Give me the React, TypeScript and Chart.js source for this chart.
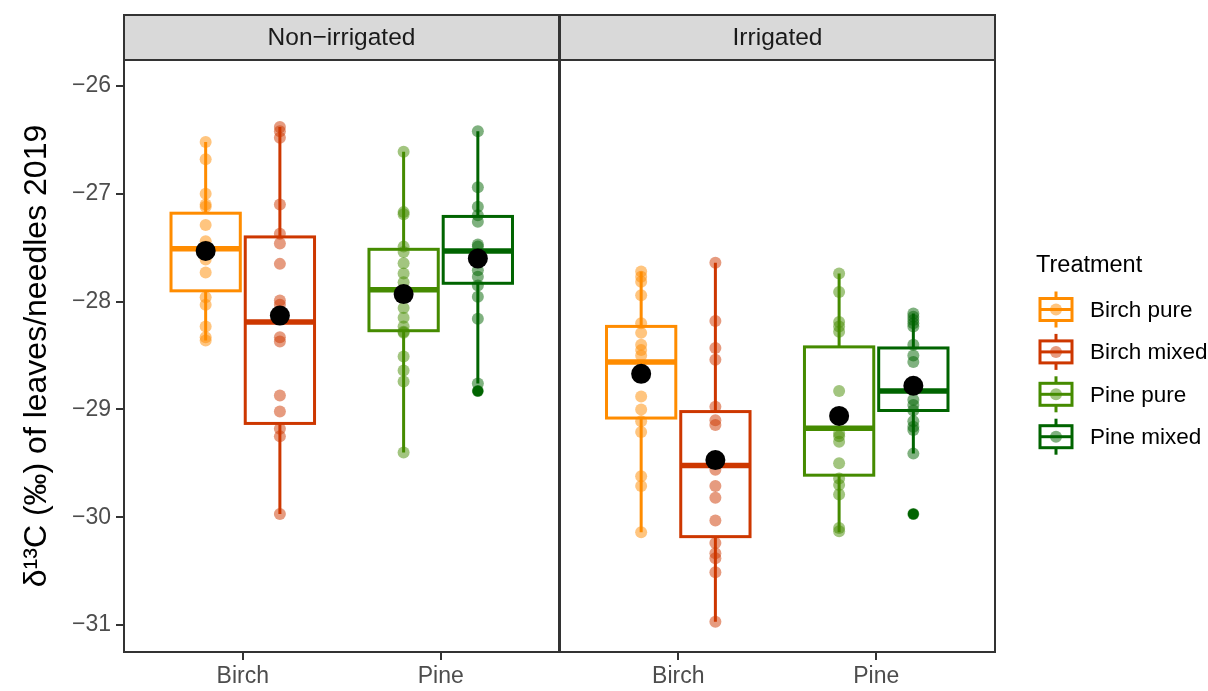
import React, { useEffect, useRef } from 'react';
import { Chart, registerables } from 'chart.js';

Chart.register(...registerables);

const FONT = "'Liberation Sans', Arial, sans-serif";

const PANELS = ['Non\u2212irrigated', 'Irrigated'];
const SPECIES = ['Birch', 'Pine'];
const TREATMENTS = ['Birch pure', 'Birch mixed', 'Pine pure', 'Pine mixed'];
const COLORS = ['#FF8C00', '#CD3700', '#458B00', '#006400'];
const Y_TICKS = [-31, -30, -29, -28, -27, -26];
const Y_TITLE = '\u03B4\u00B9\u00B3C (\u2030) of leaves/needles 2019';
const LEGEND_TITLE = 'Treatment';

// Individual observations (jittered points), Non-irrigated panel
const nonIrrBirchPure = [-26.52, -26.68, -27.0, -27.1, -27.12, -27.29, -27.44, -27.49, -27.61, -27.73, -27.96, -28.03, -28.23, -28.33, -28.36];
const nonIrrBirchMixed = [-26.38, -26.42, -26.48, -27.1, -27.37, -27.46, -27.65, -27.99, -28.03, -28.33, -28.37, -28.87, -29.02, -29.18, -29.25, -29.97];
const nonIrrPinePure = [-26.61, -27.17, -27.19, -27.49, -27.54, -27.645, -27.74, -27.82, -28.06, -28.15, -28.23, -28.28, -28.29, -28.51, -28.64, -28.74, -29.4];
const nonIrrPineMixed = [-26.42, -26.94, -27.12, -27.2, -27.26, -27.47, -27.49, -27.71, -27.77, -27.85, -27.955, -28.16, -28.76, -28.83];
// Irrigated panel
const irrBirchPure = [-27.72, -27.77, -27.815, -27.94, -28.2, -28.29, -28.4, -28.45, -28.5, -28.88, -29.0, -29.11, -29.21, -29.62, -29.71, -30.14];
const irrBirchMixed = [-27.64, -28.18, -28.43, -28.54, -28.975, -29.1, -29.145, -29.56, -29.71, -29.82, -30.03, -30.24, -30.335, -30.38, -30.51, -30.97];
const irrPinePure = [-27.74, -27.91, -28.19, -28.23, -28.28, -28.83, -29.22, -29.25, -29.3, -29.5, -29.64, -29.7, -29.79, -30.1, -30.13];
const irrPineMixed = [-28.11, -28.14, -28.17, -28.2, -28.23, -28.4, -28.5, -28.56, -28.91, -28.96, -29.01, -29.11, -29.16, -29.19, -29.41, -29.97];

// Box statistics [lower whisker, Q1, median, Q3, upper whisker], order: Birch pure, Birch mixed, Pine pure, Pine mixed
const boxNonIrr = [
  [-28.36, -27.9, -27.51, -27.18, -26.52],
  [-29.97, -29.13, -28.19, -27.4, -26.38],
  [-29.4, -28.27, -27.89, -27.515, -26.61],
  [-28.76, -27.83, -27.53, -27.21, -26.42],
];
const boxIrr = [
  [-30.14, -29.08, -28.56, -28.23, -27.72],
  [-30.97, -30.18, -29.52, -29.02, -27.64],
  [-30.14, -29.61, -29.175, -28.42, -27.74],
  [-29.41, -29.01, -28.83, -28.43, -28.11],
];
const meansNonIrr = [-27.53, -28.13, -27.93, -27.6];
const meansIrr = [-28.67, -29.47, -29.06, -28.78];
const outliersNonIrr = [[], [], [], [-28.83]];
const outliersIrr = [[], [], [], [-29.97]];

const POINTS = [
  [nonIrrBirchPure, nonIrrBirchMixed, nonIrrPinePure, nonIrrPineMixed],
  [irrBirchPure, irrBirchMixed, irrPinePure, irrPineMixed],
];
const BOXES = [boxNonIrr, boxIrr];
const MEANS = [meansNonIrr, meansIrr];
const OUTLIERS = [outliersNonIrr, outliersIrr];

// layout of the discrete axis
const PANEL_SPAN = 2.2;
const DODGE = 0.1875;
const BOX_W = 0.35;
const X_MIN = 0.4;
const X_MAX = X_MIN + PANEL_SPAN * 2;
const X_TICKS: number[] = [];
const X_TICK_LABELS: string[] = [];
PANELS.forEach((_, p) => SPECIES.forEach((s, i) => { X_TICKS.push(1 + i + p * PANEL_SPAN); X_TICK_LABELS.push(s); }));

const xPos = (p: number, t: number) => 1 + (t < 2 ? 0 : 1) + p * PANEL_SPAN + (t % 2 === 0 ? -DODGE : DODGE);

function alpha(hex: string, a: number) {
  const n = parseInt(hex.slice(1), 16);
  return `rgba(${(n >> 16) & 255},${(n >> 8) & 255},${n & 255},${a})`;
}

const boxPlugin = {
  id: 'boxes',
  beforeDatasetsDraw(chart: any) {
    const { ctx, scales } = chart;
    const x = scales.x, y = scales.y;
    ctx.save();
    BOXES.forEach((panel, p) => {
      panel.forEach((b, t) => {
        const [lo, q1, med, q3, hi] = b;
        const c = xPos(p, t);
        const px = x.getPixelForValue(c);
        const l = x.getPixelForValue(c - BOX_W / 2);
        const r = x.getPixelForValue(c + BOX_W / 2);
        ctx.strokeStyle = COLORS[t];
        ctx.lineWidth = 3;
        ctx.lineCap = 'butt';
        ctx.beginPath();
        ctx.moveTo(px, y.getPixelForValue(hi));
        ctx.lineTo(px, y.getPixelForValue(q3));
        ctx.moveTo(px, y.getPixelForValue(q1));
        ctx.lineTo(px, y.getPixelForValue(lo));
        ctx.stroke();
        const top = y.getPixelForValue(q3);
        const bot = y.getPixelForValue(q1);
        ctx.fillStyle = '#FFFFFF';
        ctx.fillRect(l, top, r - l, bot - top);
        ctx.strokeRect(l, top, r - l, bot - top);
        ctx.lineWidth = 5.5;
        ctx.beginPath();
        ctx.moveTo(l, y.getPixelForValue(med));
        ctx.lineTo(r, y.getPixelForValue(med));
        ctx.stroke();
      });
    });
    ctx.restore();
  },
};

const framePlugin = {
  id: 'frames',
  afterDatasetsDraw(chart: any) {
    const { ctx, scales, chartArea } = chart;
    const x = scales.x;
    ctx.save();
    const stripTop = 15;
    PANELS.forEach((name, p) => {
      const l = x.getPixelForValue(X_MIN + p * PANEL_SPAN) + (p === 1 ? 0.5 : 0);
      const r = x.getPixelForValue(X_MIN + (p + 1) * PANEL_SPAN) - (p === 0 ? 0.5 : 0);
      ctx.fillStyle = '#D9D9D9';
      ctx.fillRect(l, stripTop, r - l, chartArea.top - stripTop);
      ctx.strokeStyle = '#333333';
      ctx.lineWidth = 2;
      ctx.strokeRect(l, stripTop, r - l, chartArea.top - stripTop);
      ctx.strokeRect(l, chartArea.top, r - l, chartArea.bottom - chartArea.top);
      ctx.fillStyle = '#1A1A1A';
      ctx.font = `24.5px ${FONT}`;
      ctx.textAlign = 'center';
      ctx.textBaseline = 'middle';
      ctx.fillText(name, (l + r) / 2, (stripTop + chartArea.top) / 2 + 1);
    });
    ctx.restore();
  },
};

const legendPlugin = {
  id: 'ggLegend',
  afterDraw(chart: any) {
    const { ctx } = chart;
    ctx.save();
    ctx.font = `23.5px ${FONT}`;
    ctx.fillStyle = '#000000';
    ctx.textAlign = 'left';
    ctx.textBaseline = 'middle';
    ctx.fillText(LEGEND_TITLE, 1036, 266);
    ctx.font = `22.5px ${FONT}`;
    const cx = 1056;
    TREATMENTS.forEach((name, t) => {
      const cy = 309.5 + t * 42.4;
      ctx.strokeStyle = COLORS[t];
      ctx.lineWidth = 3;
      ctx.beginPath();
      ctx.moveTo(cx, cy - 18);
      ctx.lineTo(cx, cy + 18);
      ctx.stroke();
      ctx.fillStyle = '#FFFFFF';
      ctx.fillRect(cx - 16, cy - 11, 32, 22);
      ctx.strokeRect(cx - 16, cy - 11, 32, 22);
      ctx.beginPath();
      ctx.moveTo(cx - 16, cy);
      ctx.lineTo(cx + 16, cy);
      ctx.stroke();
      ctx.fillStyle = alpha(COLORS[t], 0.5);
      ctx.beginPath();
      ctx.arc(cx, cy, 6, 0, Math.PI * 2);
      ctx.fill();
      ctx.fillStyle = '#000000';
      ctx.fillText(name, 1090, cy + 1);
    });
    ctx.restore();
  },
};

export default function App() {
  const ref = useRef<HTMLCanvasElement | null>(null);
  useEffect(() => {
    document.body.style.margin = '0';
    document.body.style.overflow = 'hidden';
    const canvas = ref.current;
    if (!canvas) return;

    const datasets: any[] = [];
    const meanData: any[] = [];
    MEANS.forEach((m, p) => m.forEach((v, t) => meanData.push({ x: xPos(p, t), y: v })));
    datasets.push({
      label: 'Mean', data: meanData, backgroundColor: '#000000', borderWidth: 0,
      pointRadius: 10, order: 0,
    });
    TREATMENTS.forEach((name, t) => {
      const data: any[] = [];
      POINTS.forEach((panel, p) => panel[t].forEach((v) => data.push({ x: xPos(p, t), y: v })));
      datasets.push({
        label: name, data, backgroundColor: alpha(COLORS[t], 0.5), borderWidth: 0,
        pointRadius: 6, order: 1,
      });
    });
    TREATMENTS.forEach((name, t) => {
      const data: any[] = [];
      OUTLIERS.forEach((panel, p) => panel[t].forEach((v) => data.push({ x: xPos(p, t), y: v })));
      datasets.push({
        label: name + ' outliers', data, backgroundColor: COLORS[t], borderWidth: 0,
        pointRadius: 5.5, order: 2,
      });
    });

    const tickGrid = {
      display: true, drawOnChartArea: false, drawTicks: true, tickLength: 8,
      color: '#333333', lineWidth: 2,
    };

    const chart = new Chart(canvas, {
      type: 'scatter',
      data: { datasets },
      options: {
        responsive: false,
        animation: false,
        events: [],
        layout: { padding: { left: 0, top: 60, right: 213, bottom: 0 } },
        plugins: { legend: { display: false }, tooltip: { enabled: false } },
        scales: {
          x: {
            type: 'linear', min: X_MIN, max: X_MAX,
            afterBuildTicks: (s: any) => { s.ticks = X_TICKS.map((v) => ({ value: v })); },
            afterFit: (s: any) => { s.height = 39; },
            grid: tickGrid,
            border: { display: false },
            ticks: {
              autoSkip: false, maxRotation: 0, padding: 3,
              color: '#4D4D4D', font: { family: FONT, size: 23 },
              callback: (_v: any, i: number) => X_TICK_LABELS[i],
            },
          },
          y: {
            type: 'linear', min: -31.25, max: -25.759,
            afterBuildTicks: (s: any) => { s.ticks = Y_TICKS.map((v) => ({ value: v })); },
            afterFit: (s: any) => { s.width = 124; },
            grid: tickGrid,
            border: { display: false },
            title: {
              display: true, text: Y_TITLE, color: '#000000',
              font: { family: FONT, size: 32 }, padding: { top: 18, bottom: 0 },
            },
            ticks: {
              padding: 5, color: '#4D4D4D', font: { family: FONT, size: 23 },
              callback: (v: any) => (v < 0 ? '\u2212' + Math.abs(v) : String(v)),
            },
          },
        },
      },
      plugins: [boxPlugin, framePlugin, legendPlugin],
    });
    return () => chart.destroy();
  }, []);

  return (
    <div style={{ width: 1208, height: 691 }}>
      <canvas ref={ref} width={1208} height={691} style={{ display: 'block' }} />
    </div>
  );
}
